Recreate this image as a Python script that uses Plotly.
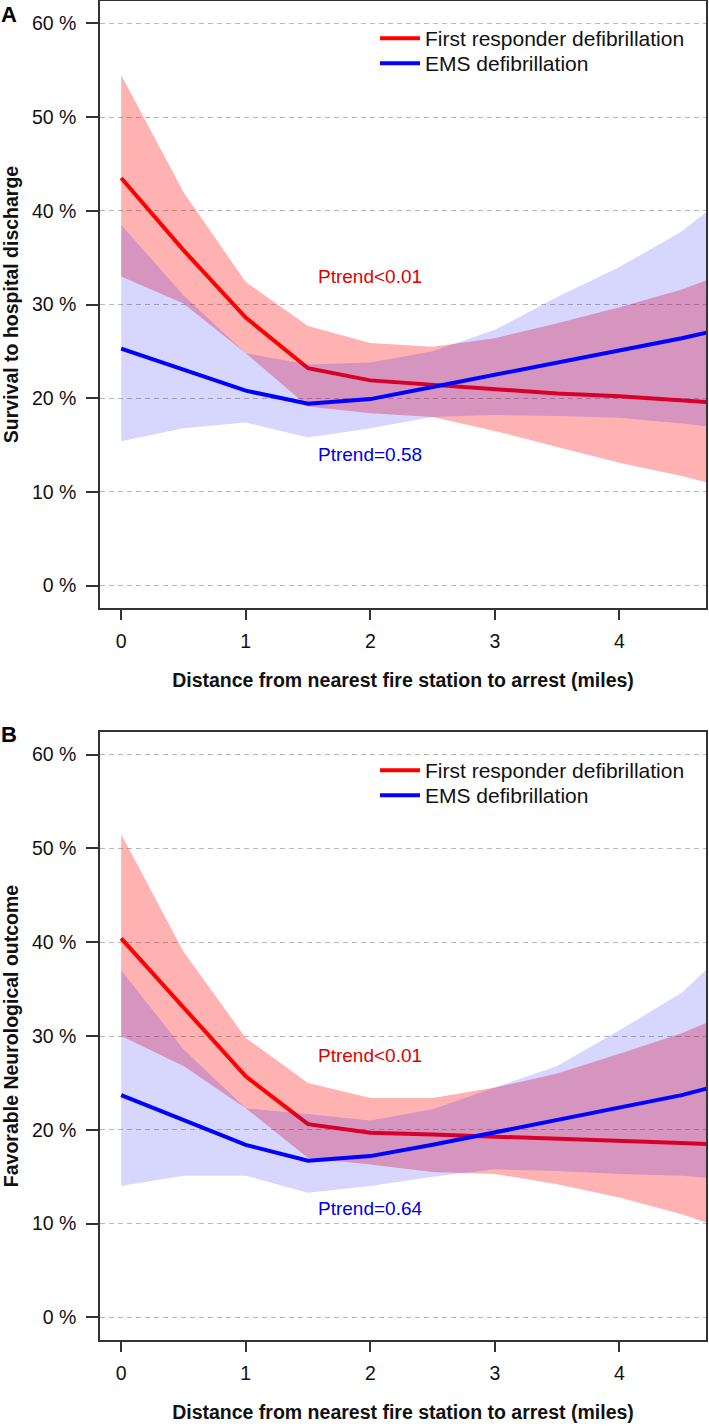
import plotly.graph_objects as go

# ---------------- data ----------------
distance = [0, 0.5, 1, 1.5, 2, 2.5, 3, 3.5, 4, 4.5, 4.7]
x_tick_vals = [0, 1, 2, 3, 4]
x_tick_text = ["0", "1", "2", "3", "4"]
y_tick_vals = [0, 10, 20, 30, 40, 50, 60]
y_tick_text = ["0 %", "10 %", "20 %", "30 %", "40 %", "50 %", "60 %"]

series_names = ["First responder defibrillation", "EMS defibrillation"]

# Panel A: survival to hospital discharge (%)
a_fr_mean = [43.5, 35.8, 28.6, 23.2, 21.9, 21.4, 20.9, 20.5, 20.2, 19.8, 19.6]
a_fr_upper = [54.5, 42.0, 32.4, 27.7, 25.9, 25.5, 26.4, 28.0, 29.7, 31.6, 32.6]
a_fr_lower = [33.0, 30.1, 24.8, 19.1, 18.4, 18.0, 16.5, 14.8, 13.1, 11.7, 11.0]
a_ems_mean = [25.3, 23.0, 20.8, 19.4, 19.9, 21.2, 22.5, 23.8, 25.0, 26.4, 27.0]
a_ems_upper = [38.5, 31.0, 24.8, 23.6, 23.8, 25.0, 27.3, 30.8, 34.0, 37.8, 39.9]
a_ems_lower = [15.4, 16.8, 17.4, 15.8, 16.8, 18.0, 18.2, 18.1, 17.9, 17.3, 17.0]
a_ptrend = ["Ptrend<0.01", "Ptrend=0.58"]

# Panel B: favorable neurological outcome (%)
b_fr_mean = [40.4, 33.0, 25.7, 20.6, 19.7, 19.5, 19.3, 19.0, 18.8, 18.6, 18.5]
b_fr_upper = [51.5, 39.0, 29.8, 25.0, 23.4, 23.4, 24.5, 26.0, 28.1, 30.3, 31.4]
b_fr_lower = [30.0, 26.8, 22.3, 17.0, 16.3, 15.5, 15.3, 14.2, 12.8, 11.0, 10.1]
b_ems_mean = [23.7, 21.0, 18.4, 16.7, 17.2, 18.4, 19.7, 21.1, 22.4, 23.7, 24.4]
b_ems_upper = [37.0, 28.6, 22.3, 21.7, 21.0, 22.2, 24.5, 26.8, 30.6, 34.6, 37.1]
b_ems_lower = [14.0, 15.1, 15.1, 13.3, 14.0, 15.0, 15.8, 15.6, 15.3, 15.1, 14.9]
b_ptrend = ["Ptrend<0.01", "Ptrend=0.64"]

# ---------------- figure ----------------
FONT = "Liberation Sans, Arial, Helvetica, sans-serif"
W, H = 709, 1427
ML, MR, MT, MB = 100, 3, 1, 87
PW, PH = W - ML - MR, H - MT - MB


def px_x(px):
    return (px - ML) / PW


def px_y(py):
    return (H - MB - py) / PH


fig = go.Figure()


def add_panel(xa, ya, legs, fr_mean, fr_lo, fr_hi, ems_mean, ems_lo, ems_hi):
    xs = distance + distance[::-1]
    fig.add_trace(go.Scatter(
        x=xs, y=fr_hi + fr_lo[::-1], fill="toself", mode="lines",
        fillcolor="rgba(255,0,0,0.30)", line=dict(width=0, color="rgba(0,0,0,0)"),
        hoverinfo="skip", showlegend=False, xaxis=xa, yaxis=ya))
    fig.add_trace(go.Scatter(
        x=distance, y=fr_mean, mode="lines", name=series_names[0],
        line=dict(color="#ff0000", width=4), legend=legs[0], xaxis=xa, yaxis=ya))
    fig.add_trace(go.Scatter(
        x=xs, y=ems_hi + ems_lo[::-1], fill="toself", mode="lines",
        fillcolor="rgba(0,0,255,0.16)", line=dict(width=0, color="rgba(0,0,0,0)"),
        hoverinfo="skip", showlegend=False, xaxis=xa, yaxis=ya))
    fig.add_trace(go.Scatter(
        x=distance, y=ems_mean, mode="lines", name=series_names[1],
        line=dict(color="#0000ff", width=4), legend=legs[1], xaxis=xa, yaxis=ya))


add_panel("x", "y", ["legend", "legend2"], a_fr_mean, a_fr_lower, a_fr_upper,
          a_ems_mean, a_ems_lower, a_ems_upper)
add_panel("x2", "y2", ["legend3", "legend4"], b_fr_mean, b_fr_lower, b_fr_upper,
          b_ems_mean, b_ems_lower, b_ems_upper)

xtitle = "Distance from nearest fire station to arrest (miles)"
xaxis_common = dict(
    range=[-0.17, 4.695], tickmode="array", tickvals=x_tick_vals, ticktext=x_tick_text,
    ticks="outside", ticklen=10, tickwidth=1.5, tickcolor="#333",
    showline=True, linecolor="#333", linewidth=1.5, mirror=True,
    showgrid=False, zeroline=False, ticklabelstandoff=5,
    tickfont=dict(family=FONT, size=19.5, color="#111"),
    title=dict(text=xtitle, font=dict(family=FONT, size=19.5, color="#111", weight="bold"),
               standoff=22),
)
yaxis_common = dict(
    range=[-2.4, 62.4], tickmode="array", tickvals=y_tick_vals, ticktext=y_tick_text,
    ticks="outside", ticklen=12, tickwidth=1.5, tickcolor="#333",
    showline=True, linecolor="#333", linewidth=1.5, mirror=True,
    showgrid=True, gridcolor="#b8b8b8", gridwidth=1, griddash="5px,4px",
    zeroline=False, ticklabelstandoff=6,
    tickfont=dict(family=FONT, size=19.5, color="#111"),
)

dom_a = [px_y(608), 1.0]
dom_b = [0.0, px_y(732)]


def legend_at(top_px):
    return dict(x=px_x(375), xanchor="left", y=px_y(top_px), yanchor="top",
                font=dict(family=FONT, size=21, color="#111"),
                bgcolor="rgba(0,0,0,0)", itemwidth=40, tracegroupgap=0)


fig.update_layout(
    width=W, height=H,
    margin=dict(l=ML, r=MR, t=MT, b=MB, autoexpand=False),
    plot_bgcolor="white", paper_bgcolor="white",
    font=dict(family=FONT, color="#111"),
    xaxis=dict(xaxis_common, domain=[0, 1], anchor="y"),
    yaxis=dict(yaxis_common, domain=dom_a, anchor="x",
               title=dict(text="Survival to hospital discharge",
                          font=dict(family=FONT, size=19.5, color="#111", weight="bold"),
                          standoff=10)),
    xaxis2=dict(xaxis_common, domain=[0, 1], anchor="y2"),
    yaxis2=dict(yaxis_common, domain=dom_b, anchor="x2",
                title=dict(text="Favorable Neurological outcome",
                           font=dict(family=FONT, size=19.5, color="#111", weight="bold"),
                           standoff=10)),
    legend=legend_at(18),
    legend2=legend_at(43),
    legend3=legend_at(750),
    legend4=legend_at(775),
    showlegend=True,
)

ann = []
# panel letters
ann.append(dict(text="<b>A</b>", x=px_x(0), y=px_y(1), xref="paper", yref="paper",
                xanchor="left", yanchor="top", borderpad=0,
                showarrow=False, font=dict(family=FONT, size=22, color="#000")))
ann.append(dict(text="<b>B</b>", x=px_x(0), y=px_y(721), xref="paper", yref="paper",
                xanchor="left", yanchor="top", borderpad=0,
                showarrow=False, font=dict(family=FONT, size=22, color="#000")))
# p-trend labels
for xr, yr, txts, ys in [("x", "y", a_ptrend, [33.0, 14.0]), ("x2", "y2", b_ptrend, [27.9, 11.6])]:
    ann.append(dict(text=txts[0], x=2, y=ys[0], xref=xr, yref=yr, showarrow=False,
                    font=dict(family=FONT, size=19, color="#e00000")))
    ann.append(dict(text=txts[1], x=2, y=ys[1], xref=xr, yref=yr, showarrow=False,
                    font=dict(family=FONT, size=19, color="#0000e0")))
fig.update_layout(annotations=ann)

fig.write_html("out.html", config={"displayModeBar": False},
               post_script="document.body.style.margin='0';document.body.style.padding='0';")
